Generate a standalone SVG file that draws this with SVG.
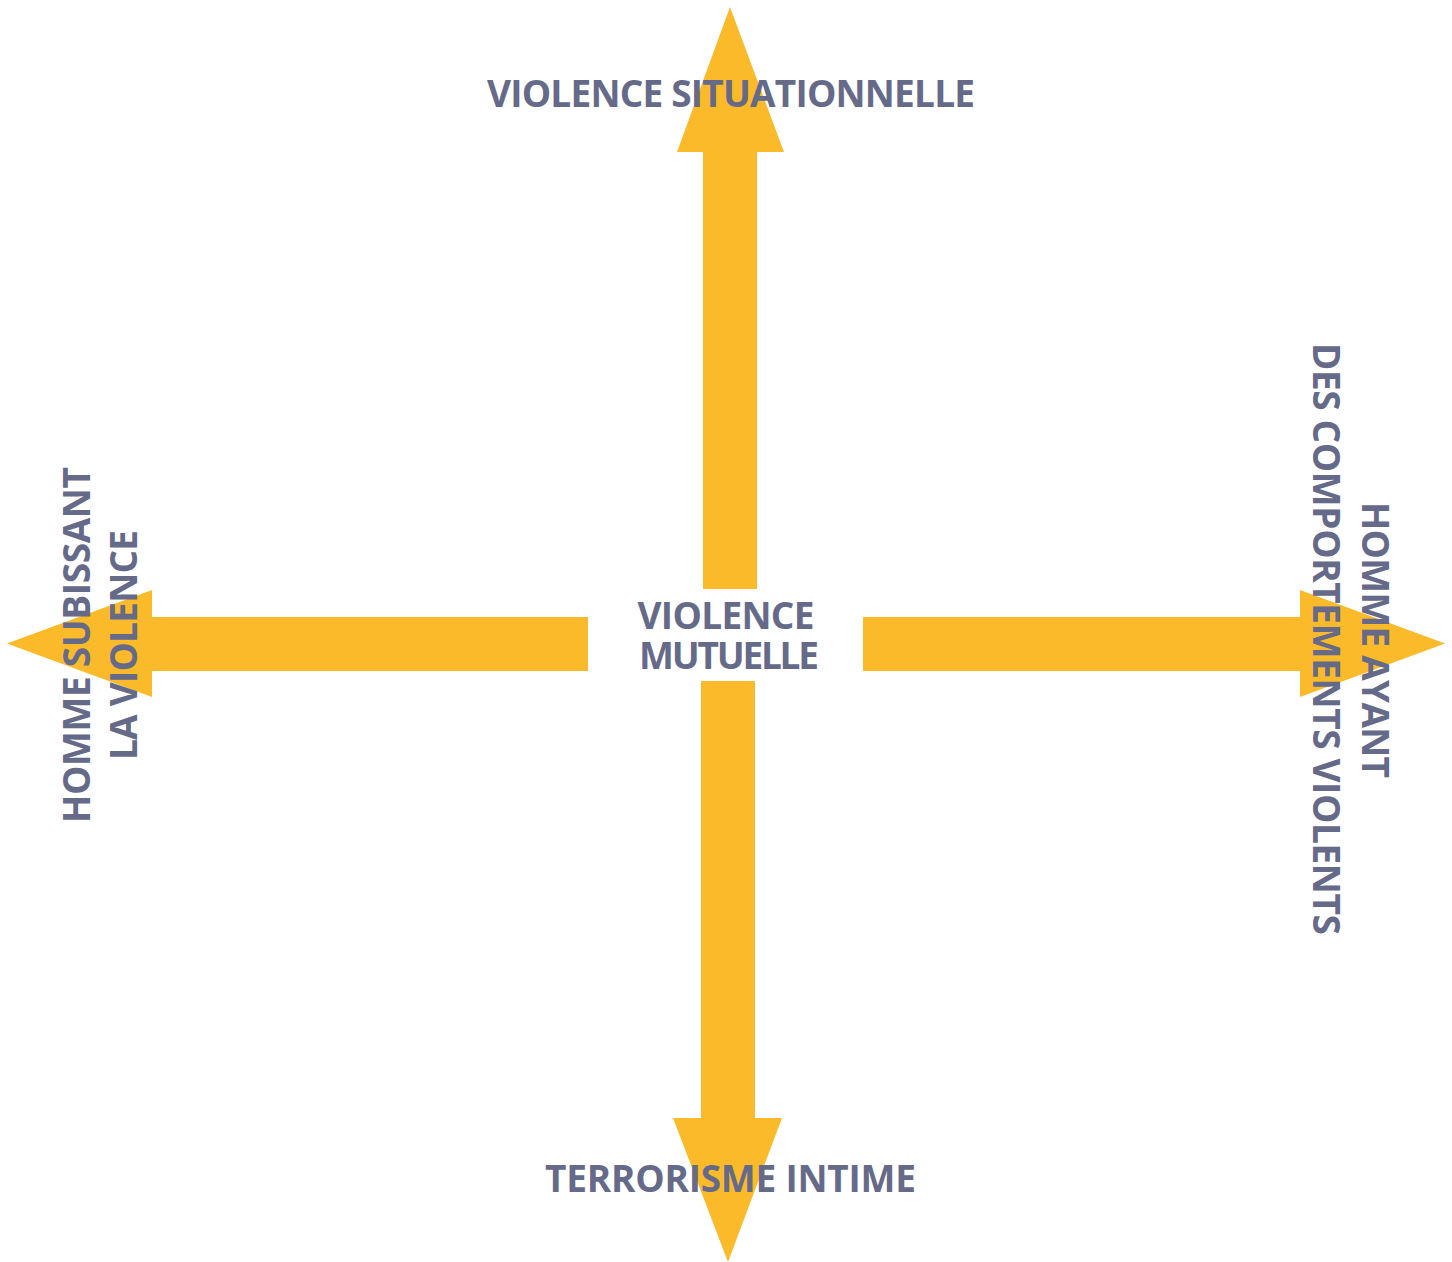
<svg xmlns="http://www.w3.org/2000/svg" width="1452" height="1262" viewBox="0 0 1452 1262">
  <style>
    .arrow { fill: #FBBA2A; stroke: none; }
    .label { font-family: "Open Sans", "Noto Sans", "Liberation Sans", sans-serif; font-weight: 700; font-size: 37px; fill: #666A89; text-anchor: middle; }
  </style>
  <rect width="1452" height="1262" fill="#FFFFFF"/>

  <!-- four block arrows radiating from the centre -->
  <g id="connectors">
    <polygon id="arrow-up" class="arrow" points="730,7 784,152 757,152 757,589 703,589 703,152 677,152"/>
    <polygon id="arrow-down" class="arrow" points="701,681 755,681 755,1118 782,1118 728,1262 673,1118 701,1118"/>
    <polygon id="arrow-left" class="arrow" points="7,643.5 152,590 152,617 588,617 588,671 152,671 152,697"/>
    <polygon id="arrow-right" class="arrow" points="863,617 1300,617 1300,590 1445,643.5 1300,697 1300,671 863,671"/>
  </g>

  <g id="node-center">
    <text class="label" x="726" y="629" textLength="177">VIOLENCE</text>
    <text class="label" x="729" y="669" textLength="180">MUTUELLE</text>
  </g>

  <g id="node-top">
    <text class="label" x="731" y="107" textLength="488">VIOLENCE SITUATIONNELLE</text>
  </g>

  <g id="node-bottom">
    <text class="label" x="730.5" y="1192" textLength="371">TERRORISME INTIME</text>
  </g>

  <g id="node-left">
    <text class="label" transform="translate(90,645) rotate(-90)" textLength="356">HOMME SUBISSANT</text>
    <text class="label" transform="translate(137,645) rotate(-90)" textLength="230">LA VIOLENCE</text>
  </g>

  <g id="node-right">
    <text class="label" transform="translate(1362,640) rotate(90)" textLength="276">HOMME AYANT</text>
    <text class="label" transform="translate(1313,639) rotate(90)" textLength="592">DES COMPORTEMENTS VIOLENTS</text>
  </g>
</svg>
